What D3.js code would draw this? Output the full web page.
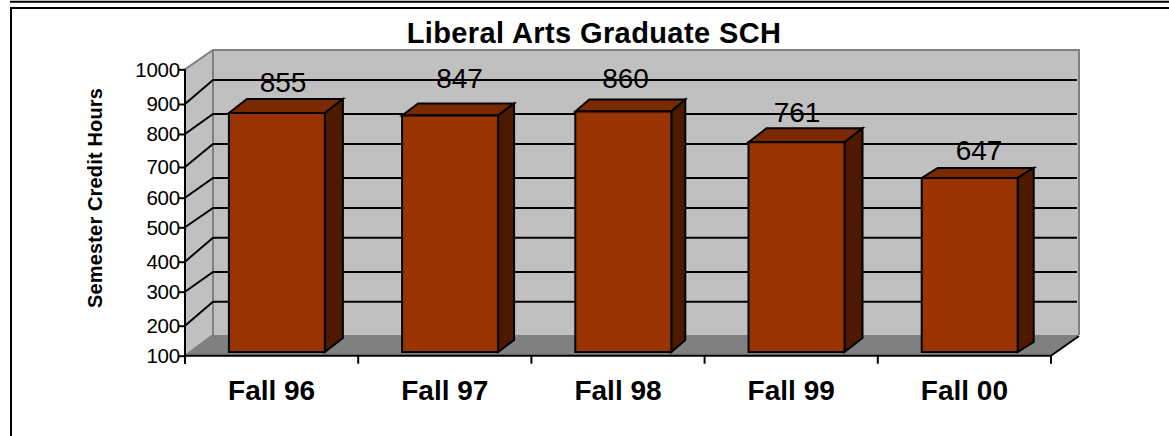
<!DOCTYPE html>
<html><head><meta charset="utf-8">
<style>html,body{margin:0;padding:0;background:#fff}svg{display:block}text{font-family:"Liberation Sans",Arial,sans-serif;fill:#000}</style>
<script src="https://cdn.jsdelivr.net/npm/d3@7"></script></head><body>
<svg id="c" width="1169" height="436"></svg>
<script>
const categories=["Fall 96","Fall 97","Fall 98","Fall 99","Fall 00"];
const sch=[855,847,860,761,647];
const tickValues=[100,200,300,400,500,600,700,800,900,1000];
const chartTitle="Liberal Arts Graduate SCH";
const yTitle="Semester Credit Hours";

const svg=d3.select("#c");
const X0=185,X1=1051,DX=28;
// measured rendered gridline rows of the source picture
const yFront=d3.scaleLinear().domain(tickValues).range([355.7,325.7,291.7,261.7,227.3,197.7,167,134,104,69.3]);
const yBack=d3.scaleLinear().domain(tickValues).range([335,301.7,272,237.7,208,178,144,114,80,50]);
const yBar=d3.scaleLinear().domain([647,860]).range([177.9,111.4]);
const x=d3.scaleBand().domain(categories).range([X0,X1]);
const poly=(p,fill)=>svg.append("polygon").attr("points",p.map(d=>d.join(",")).join(" ")).attr("fill",fill);

// frame
svg.append("line").attr("x1",10).attr("x2",1169).attr("y1",1.7).attr("y2",1.7).attr("stroke","#000").attr("stroke-width",2);
svg.append("path").attr("d","M11,436V8H1169").attr("fill","none").attr("stroke","#000").attr("stroke-width",2);

// walls and floor
const bx0=X0+DX,bx1=X1+DX;
poly([[bx0,yBack(1000)],[bx1,yBack(1000)],[bx1,yBack(100)],[bx0,yBack(100)]],"#C0C0C0");
poly([[X0,yFront(1000)],[bx0,yBack(1000)],[bx0,yBack(100)],[X0,yFront(100)]],"#C0C0C0");
poly([[X0,yFront(100)],[bx0,yBack(100)],[bx1,yBack(100)],[X1,yFront(100)]],"#808080");
svg.append("path").attr("d",`M${X0},${yFront(1000)}L${bx0},${yBack(1000)}H${bx1}V${yBack(100)}M${bx0},${yBack(1000)}V${yBack(100)}L${X0},${yFront(100)}`)
  .attr("fill","none").attr("stroke","#808080").attr("stroke-width",2);

// gridlines
svg.append("g").selectAll("path").data(tickValues.slice(1,-1)).join("path")
  .attr("d",v=>`M${X0},${yFront(v)}L${bx0},${yBack(v)}H${bx1-2}`)
  .attr("fill","none").attr("stroke","#000").attr("stroke-width",2);
svg.append("line").attr("x1",X1).attr("x2",bx1).attr("y1",yFront(100)).attr("y2",yBack(100)+1).attr("stroke","#000").attr("stroke-width",2);

// bars: depth and label offsets follow the source picture's pixel snapping
const barW=96,barOff=5.3,floorY=352;
const depthX=[18,16,14,18,16],depthY=[14,12,12,14,10];
const labelDX=[11.4,14.7,7.5,5.8,14.6],labelDY=[21,27.2,23.4,20.6,17.9];
const g=svg.append("g").selectAll("g").data(categories).join("g");
g.each(function(c,i){
  const s=d3.select(this),L=x(c)+(x.bandwidth()-barW)/2+barOff,R=L+barW,T=yBar(sch[i]),dx=depthX[i],dy=depthY[i];
  const P=(p,f)=>s.append("polygon").attr("points",p.map(d=>d.join(",")).join(" ")).attr("fill",f).attr("stroke","#000").attr("stroke-width",2);
  P([[L,T],[R,T],[R+dx,T-dy],[L+dx,T-dy]],"#7A2900");
  P([[R,T],[R+dx,T-dy],[R+dx,floorY-dy],[R,floorY]],"#4D1A00");
  P([[L,T],[R,T],[R,floorY],[L,floorY]],"#993300");
});
svg.append("g").selectAll("text").data(categories).join("text")
  .attr("x",(c,i)=>x(c)+x.bandwidth()/2+labelDX[i]).attr("y",(c,i)=>yBar(sch[i])-labelDY[i])
  .attr("text-anchor","middle").attr("font-size",28).text((c,i)=>sch[i]);

// axes
const yAxis=svg.append("g").attr("transform",`translate(${X0},0)`).call(d3.axisLeft(yFront).tickValues(tickValues).tickSize(7).tickPadding(0).tickFormat(d3.format("d")));
yAxis.select(".domain").attr("stroke","#000").attr("stroke-width",2).attr("d",`M0,${yFront(1000)}V${yFront(100)+8}`);
yAxis.selectAll(".tick line").attr("stroke","#000").attr("stroke-width",2);
yAxis.selectAll("text").attr("font-size",20.5).attr("letter-spacing",-0.2).attr("x",-5).attr("dy","0.33em");
yAxis.attr("font-family",null);

const xAxis=svg.append("g").attr("transform",`translate(0,${yFront(100)})`).call(d3.axisBottom(x).tickSize(0).tickPadding(0));
xAxis.select(".domain").attr("stroke","#000").attr("stroke-width",2).attr("d",`M${X0},0H${X1}`);
xAxis.attr("font-family",null);
xAxis.selectAll("text").attr("font-size",28).attr("font-weight","bold").attr("y",0).attr("dy",44);
svg.append("g").selectAll("line").data(categories.concat("end")).join("line")
  .attr("x1",c=>c==="end"?X1:x(c)).attr("x2",c=>c==="end"?X1:x(c))
  .attr("y1",yFront(100)).attr("y2",yFront(100)+8).attr("stroke","#000").attr("stroke-width",2);

// titles
svg.append("text").attr("x",594).attr("y",42.5).attr("text-anchor","middle").attr("font-size",29).attr("letter-spacing",0.4).attr("font-weight","bold").text(chartTitle);
svg.append("text").attr("transform","translate(101.5,198) rotate(-90)").attr("text-anchor","middle").attr("font-size",20).attr("letter-spacing",0.15).attr("font-weight","bold").text(yTitle);
</script></body></html>
